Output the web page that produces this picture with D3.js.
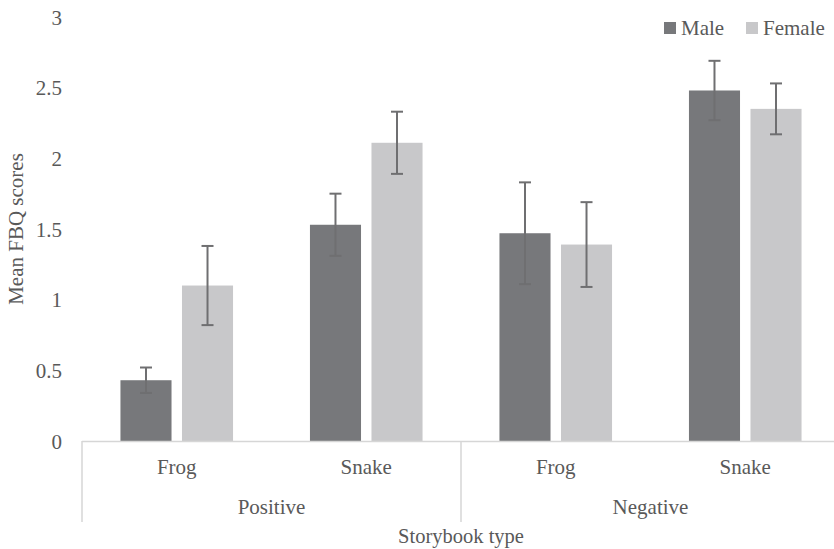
<!DOCTYPE html>
<html>
<head>
<meta charset="utf-8">
<script src="https://cdn.jsdelivr.net/npm/d3@7"></script>
<style>
  html, body { margin: 0; padding: 0; background: #fff; }
  svg { display: block; font-family: "Liberation Serif", "Times New Roman", serif; }
</style>
</head>
<body>
<svg id="chart" width="834" height="549"></svg>
<script>
// Storybook groups and the two stories inside each group
const groups = ["Positive", "Negative"];
const stories = ["Frog", "Snake"];
const genders = ["Male", "Female"];
const colors = ["#77787b", "#c8c8ca"];

// Mean FBQ score and standard error, in order: Positive-Frog, Positive-Snake, Negative-Frog, Negative-Snake
const maleMeans   = [0.43, 1.53, 1.47, 2.48];
const maleErrors  = [0.09, 0.22, 0.36, 0.21];
const femaleMeans = [1.10, 2.11, 1.39, 2.35];
const femaleErrors= [0.28, 0.22, 0.30, 0.18];

const yTicks = [0, 0.5, 1, 1.5, 2, 2.5, 3];

const categories = [];
groups.forEach(g => stories.forEach(s => categories.push(g + "|" + s)));

const rows = categories.map((c, i) => ({
  key: c,
  group: c.split("|")[0],
  story: c.split("|")[1],
  values: [
    { gender: "Male", mean: maleMeans[i], err: maleErrors[i] },
    { gender: "Female", mean: femaleMeans[i], err: femaleErrors[i] }
  ]
}));

const svg = d3.select("#chart");
const textColor = "#595959";
const lineColor = "#d6d6d6";

const plotLeft = 82, plotRight = 840, plotTop = 17, plotBottom = 441;

const y = d3.scaleLinear().domain([0, 3]).range([plotBottom, plotTop]);
const x0 = d3.scaleBand().domain(categories).range([plotLeft, plotRight]).padding(0);
const x1 = d3.scaleBand().domain(genders).range([0, x0.bandwidth()])
  .paddingInner(0.17).paddingOuter(0.625);
const color = d3.scaleOrdinal().domain(genders).range(colors);

// y-axis tick labels (no axis line, no gridlines)
const yAxis = d3.axisLeft(y).tickValues(yTicks).tickSize(0).tickPadding(0)
  .tickFormat(d3.format("~g"));
const yg = svg.append("g").attr("transform", `translate(62,0)`).call(yAxis);
yg.select(".domain").remove();
yg.selectAll("text")
  .attr("fill", textColor)
  .style("font-size", "21px")
  .style("font-family", "'Liberation Serif', serif")
  .attr("dy", "0.34em");

// y-axis title
svg.append("text")
  .attr("transform", `translate(23,${(plotTop + plotBottom) / 2}) rotate(-90)`)
  .attr("text-anchor", "middle")
  .attr("fill", textColor)
  .style("font-size", "21px")
  .text("Mean FBQ scores");

// bars
const cat = svg.append("g").selectAll("g").data(rows).join("g")
  .attr("transform", d => `translate(${x0(d.key)},0)`);

cat.selectAll("rect").data(d => d.values).join("rect")
  .attr("x", d => x1(d.gender))
  .attr("width", x1.bandwidth())
  .attr("y", d => y(d.mean))
  .attr("height", d => y(0) - y(d.mean))
  .attr("fill", d => color(d.gender));

// error bars
const eb = cat.selectAll("g.err").data(d => d.values).join("g").attr("class", "err")
  .attr("stroke", "#6f6f71").attr("stroke-width", 2);
const cx = d => x1(d.gender) + x1.bandwidth() / 2;
eb.append("line")
  .attr("x1", cx).attr("x2", cx)
  .attr("y1", d => y(d.mean + d.err)).attr("y2", d => y(d.mean - d.err));
eb.append("line")
  .attr("x1", d => cx(d) - 6).attr("x2", d => cx(d) + 6)
  .attr("y1", d => y(d.mean + d.err)).attr("y2", d => y(d.mean + d.err));
eb.append("line")
  .attr("x1", d => cx(d) - 6).attr("x2", d => cx(d) + 6)
  .attr("y1", d => y(d.mean - d.err)).attr("y2", d => y(d.mean - d.err));

// category axis: baseline plus group dividers
svg.append("line")
  .attr("x1", plotLeft).attr("x2", plotRight)
  .attr("y1", y(0) + 0.5).attr("y2", y(0) + 0.5)
  .attr("stroke", lineColor).attr("stroke-width", 1.5);

const groupWidth = x0.bandwidth() * stories.length;
const dividers = d3.range(groups.length + 1).map(i => plotLeft + i * groupWidth);
svg.selectAll("line.div").data(dividers).join("line").attr("class", "div")
  .attr("x1", d => d).attr("x2", d => d)
  .attr("y1", y(0)).attr("y2", 522)
  .attr("stroke", lineColor).attr("stroke-width", 1.5);

// story labels
svg.selectAll("text.story").data(rows).join("text").attr("class", "story")
  .attr("x", d => x0(d.key) + x0.bandwidth() / 2)
  .attr("y", 474)
  .attr("text-anchor", "middle")
  .attr("fill", textColor)
  .style("font-size", "21px")
  .text(d => d.story);

// group labels
svg.selectAll("text.group").data(groups).join("text").attr("class", "group")
  .attr("x", (d, i) => plotLeft + i * groupWidth + groupWidth / 2)
  .attr("y", 514)
  .attr("text-anchor", "middle")
  .attr("fill", textColor)
  .style("font-size", "21px")
  .text(d => d);

// x-axis title
svg.append("text")
  .attr("x", (plotLeft + plotRight) / 2)
  .attr("y", 543)
  .attr("text-anchor", "middle")
  .attr("fill", textColor)
  .style("font-size", "20.5px")
  .text("Storybook type");

// legend
const legendX = [664, 746];
const lg = svg.append("g").selectAll("g").data(genders).join("g")
  .attr("transform", (d, i) => `translate(${legendX[i]},22)`);
lg.append("rect").attr("width", 12).attr("height", 12).attr("fill", d => color(d));
lg.append("text")
  .attr("x", 17).attr("y", 13)
  .attr("fill", textColor)
  .style("font-size", "21px")
  .text(d => d);
</script>
</body>
</html>
